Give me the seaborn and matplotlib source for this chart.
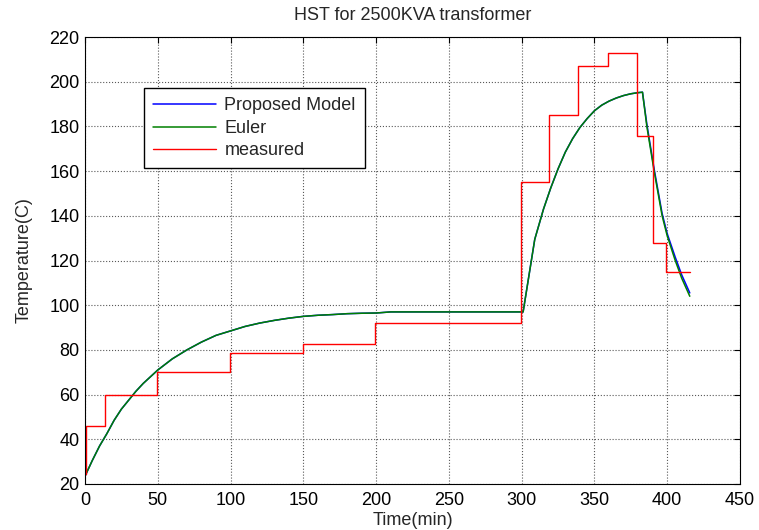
import numpy as np
import pandas as pd
import matplotlib
matplotlib.use("Agg")
import matplotlib.pyplot as plt
import seaborn as sns

# ---- data ----
t_model = [0, 5, 10, 15, 20, 25, 30, 35, 40, 45, 50, 60, 70, 80, 90, 100, 110, 120, 130, 140,
           150, 160, 170, 180, 190, 200, 210, 250, 300, 301, 309, 315, 320, 325, 330, 335, 340,
           345, 350, 355, 360, 365, 370, 375, 380, 383, 386, 391, 396.5, 400, 405.5, 410, 415.5]
euler = [23.5, 30.5, 37, 42.5, 48.5, 53.5, 57.5, 61.5, 65, 68, 71, 76, 80, 83.5, 86.5, 88.5,
         90.5, 92, 93.2, 94.2, 95, 95.5, 95.8, 96.2, 96.4, 96.5, 97, 97, 97, 97, 129.5, 143,
         152.5, 161, 168.5, 174.5, 179.5, 183.5, 187, 189.5, 191.3, 192.7, 193.8, 194.6, 195.1,
         195.3, 180, 160, 140, 131, 120, 112, 104]
proposed = [23.5, 30.5, 37, 42.5, 48.5, 53.5, 57.5, 61.5, 65, 68, 71, 76, 80, 83.5, 86.5, 88.5,
            90.5, 92, 93.2, 94.2, 95, 95.5, 95.8, 96.2, 96.4, 96.5, 97, 97, 97, 97, 129.5, 143,
            152.5, 161, 168.5, 174.5, 179.5, 183.5, 187, 189.5, 191.3, 192.7, 193.8, 194.6, 195.1,
            195.3, 181, 161, 141, 132, 121.5, 113.5, 105.5]
t_meas = [0, 0.7, 13.5, 49.5, 99.5, 149.5, 199.5, 299.5, 319, 339, 359.5, 379.5, 390, 399.5, 415.5]
measured = [24.5, 46, 60, 70, 78.5, 82.5, 92, 155, 185, 207, 213, 175.5, 128, 115, 115]

x_ticks = [0, 50, 100, 150, 200, 250, 300, 350, 400, 450]
y_ticks = [20, 40, 60, 80, 100, 120, 140, 160, 180, 200, 220]

sns.set_style("white")
plt.rcParams['font.family'] = ['Liberation Sans', 'DejaVu Sans']

FS = 13

fig = plt.figure(figsize=(7.59, 5.30), dpi=100)
ax = fig.add_axes([85/759, 1-484/530, (740-85)/759, (484-37)/530])

sns.lineplot(x=t_model, y=proposed, ax=ax, color=(0, 0, 1), lw=1.1,
             label="Proposed Model", sort=False, estimator=None)
sns.lineplot(x=t_model, y=euler, ax=ax, color=(0, 0.5, 0), lw=1.1,
             label="Euler", sort=False, estimator=None)
sns.lineplot(x=t_meas, y=measured, ax=ax, color=(1, 0, 0), lw=1.0,
             label="measured", sort=False, estimator=None, drawstyle="steps-post")

ax.set_xlim(0, 450)
ax.set_ylim(20, 220)
ax.set_xticks(x_ticks)
ax.set_yticks(y_ticks)
ax.tick_params(direction="in", top=True, right=True, length=4, width=0.8,
               labelsize=FS, colors="black")
ax.tick_params(axis="x", pad=6)
ax.tick_params(axis="y", pad=4)
ax.grid(True, linestyle=":", color="0.35", linewidth=0.8)
for s in ax.spines.values():
    s.set_color("black")
    s.set_linewidth(0.8)

ax.set_title("HST for 2500KVA transformer", fontsize=FS, pad=12)
ax.set_xlabel("Time(min)", fontsize=FS, labelpad=2)
ax.set_ylabel("Temperature(C)", fontsize=FS, labelpad=12)

leg = ax.legend(loc="upper left", bbox_to_anchor=(0.09, 0.885), borderaxespad=0,
                fontsize=FS, handlelength=3.5, handletextpad=0.45, labelspacing=0.3,
                borderpad=0.5, fancybox=False, framealpha=1)
leg.get_frame().set_edgecolor("black")
leg.get_frame().set_linewidth(1.0)

fig.savefig("out.png", dpi=100)
